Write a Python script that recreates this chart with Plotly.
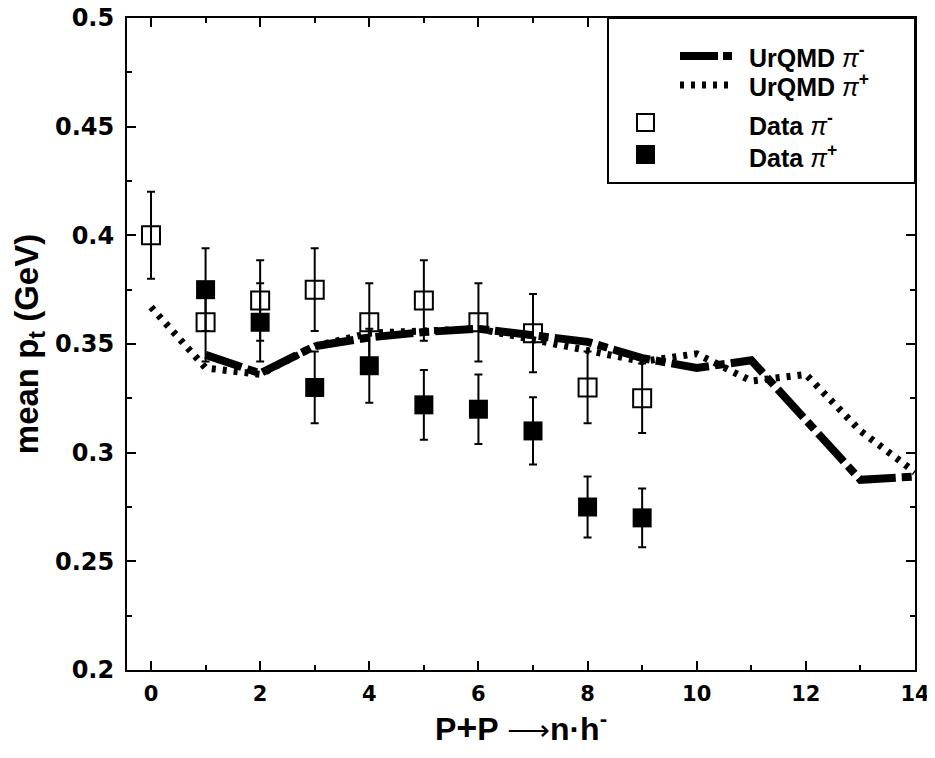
import plotly.graph_objects as go

# ---- data ----
n_h = [0, 1, 2, 3, 4, 5, 6, 7, 8, 9]
data_pim = [0.400, 0.360, 0.370, 0.375, 0.360, 0.370, 0.360, 0.355, 0.330, 0.325]
data_pim_err = [0.020, 0.018, 0.0185, 0.019, 0.018, 0.0185, 0.018, 0.018, 0.0165, 0.016]
n_h_plus = [1, 2, 3, 4, 5, 6, 7, 8, 9]
data_pip = [0.375, 0.360, 0.330, 0.340, 0.322, 0.320, 0.310, 0.275, 0.270]
data_pip_err = [0.019, 0.018, 0.0165, 0.017, 0.016, 0.016, 0.0155, 0.014, 0.0135]

urqmd_pim_x = [1, 2, 3, 4, 5, 6, 7, 8, 9, 10, 11, 12, 13, 14]
urqmd_pim = [0.345, 0.3365, 0.349, 0.353, 0.3555, 0.357, 0.354, 0.351, 0.3435, 0.339, 0.3425, 0.315, 0.2875, 0.289]
urqmd_pip_x = [0, 1, 2, 3, 4, 5, 6, 7, 8, 9, 10, 11, 12, 13, 14]
urqmd_pip = [0.367, 0.339, 0.336, 0.349, 0.355, 0.356, 0.357, 0.352, 0.347, 0.342, 0.3455, 0.333, 0.336, 0.310, 0.291]

x_ticks = [0, 2, 4, 6, 8, 10, 12, 14]
x_tick_text = ["0", "2", "4", "6", "8", "10", "12", "14"]
y_ticks = [0.2, 0.25, 0.3, 0.35, 0.4, 0.45, 0.5]
y_tick_text = ["0.2", "0.25", "0.3", "0.35", "0.4", "0.45", "0.5"]

PI_M = "<span style='font-weight:normal'><i>π</i></span><sup>-</sup>"
PI_P = "<span style='font-weight:normal'><i>π</i></span><sup>+</sup>"
legend_labels = ["UrQMD " + PI_M, "UrQMD " + PI_P, "Data " + PI_M, "Data " + PI_P]

BOLD = "Liberation Sans"

fig = go.Figure()

fig.add_trace(go.Scatter(
    x=n_h, y=data_pim, mode="markers",
    marker=dict(symbol="square-open", size=18, color="black", line=dict(width=2, color="black")),
    error_y=dict(type="data", array=data_pim_err, color="black", thickness=2, width=4),
    showlegend=False))
fig.add_trace(go.Scatter(
    x=n_h_plus, y=data_pip, mode="markers",
    marker=dict(symbol="square", size=19, color="black"),
    error_y=dict(type="data", array=data_pip_err, color="black", thickness=2, width=4),
    showlegend=False))
fig.add_trace(go.Scatter(
    x=urqmd_pip_x, y=urqmd_pip, mode="lines",
    line=dict(color="black", width=7, dash="4px,7px"),
    showlegend=False))
fig.add_trace(go.Scatter(
    x=urqmd_pim_x, y=urqmd_pim, mode="lines",
    line=dict(color="black", width=8, dash="38px,6px,10px,6px"),
    showlegend=False))

# ---- hand-drawn legend box (paper coords) ----
L, R, T, B = 127, 915, 18, 670
def px(xp):
    return (xp - L) / (R - L)
def py(yp):
    return (B - yp) / (B - T)

shapes = []
shapes.append(dict(type="rect", xref="paper", yref="paper", x0=px(608), x1=1, y0=py(183), y1=1,
                   line=dict(color="black", width=2), fillcolor="white", layer="above"))
shapes.append(dict(type="line", xref="paper", yref="paper", x0=px(680), x1=px(732), y0=py(56), y1=py(56),
                   line=dict(color="black", width=8, dash="38px,5px,9px,5px"), layer="above"))
shapes.append(dict(type="line", xref="paper", yref="paper", x0=px(680), x1=px(730), y0=py(85), y1=py(85),
                   line=dict(color="black", width=7, dash="4px,7px"), layer="above"))
shapes.append(dict(type="rect", xref="paper", yref="paper", x0=px(637), x1=px(654), y0=py(131), y1=py(114),
                   line=dict(color="black", width=2), fillcolor="white", layer="above"))
shapes.append(dict(type="rect", xref="paper", yref="paper", x0=px(636), x1=px(655), y0=py(164), y1=py(145),
                   line=dict(color="black", width=0), fillcolor="black", layer="above"))

annotations = []
for lab, yy in zip(legend_labels, [56, 85, 124, 156]):
    annotations.append(dict(text=lab, xref="paper", yref="paper", x=px(747), y=py(yy),
                            xanchor="left", yanchor="middle", showarrow=False,
                            font=dict(family=BOLD, size=25, color="black", weight="bold")))

# the page body adds an 8px offset; margins compensate so the plot frame
# lands at x 127..915, y 18..670 of the window
fig.update_layout(
    width=935, height=758,
    margin=dict(l=119, r=28, t=10, b=96, autoexpand=False),
    paper_bgcolor="white", plot_bgcolor="white",
    shapes=shapes, annotations=annotations,
    xaxis=dict(
        range=[-0.44, 14], tickvals=x_ticks, ticktext=x_tick_text, automargin=False,
        ticklabeloverflow="allow",
        showline=True, linecolor="black", linewidth=2, mirror="ticks",
        ticks="inside", ticklen=9, tickwidth=1.5, tickcolor="black",
        minor=dict(dtick=1, tick0=0, ticks="inside", ticklen=5, tickwidth=1.5, tickcolor="black"),
        showgrid=False, zeroline=False,
        tickfont=dict(family="DejaVu Sans", size=21, color="black", weight="bold"),
        ticklabelstandoff=4,
        title=dict(text="P<span style='font-size:36px'>+</span>P <span style='font-weight:normal;font-size:30px'>⟶</span>n·h<sup>-</sup>",
                   font=dict(family=BOLD, size=32, color="black", weight="bold"), standoff=4),
    ),
    yaxis=dict(
        range=[0.2, 0.5], tickvals=y_ticks, ticktext=y_tick_text, automargin=False,
        ticklabeloverflow="allow",
        showline=True, linecolor="black", linewidth=2, mirror="ticks",
        ticks="inside", ticklen=9, tickwidth=1.5, tickcolor="black",
        minor=dict(dtick=0.025, tick0=0.2, ticks="inside", ticklen=5, tickwidth=1.5, tickcolor="black"),
        showgrid=False, zeroline=False,
        tickfont=dict(family="DejaVu Sans", size=24, color="black", weight="bold"),
        ticklabelstandoff=6,
        title=dict(text="mean p<sub>t</sub> (GeV)",
                   font=dict(family=BOLD, size=33, color="black", weight="bold"), standoff=11),
    ),
)

fig.write_html("out.html")
